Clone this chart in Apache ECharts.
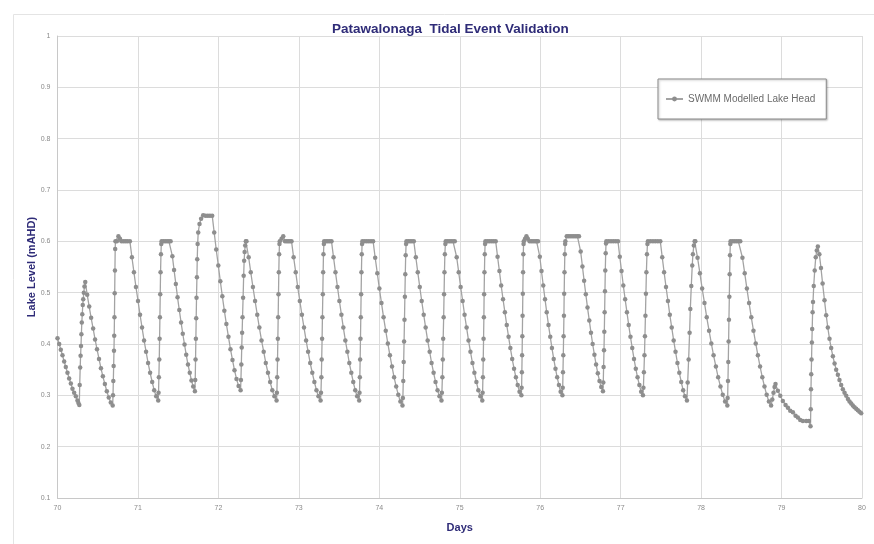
<!DOCTYPE html>
<html>
<head>
<meta charset="utf-8">
<title>Patawalonaga Tidal Event Validation</title>
<script src="https://cdn.jsdelivr.net/npm/echarts@6/dist/echarts.min.js"></script>
<style>
  html, body { margin: 0; padding: 0; background: #ffffff; }
  #chart { width: 874px; height: 544px; }
</style>
</head>
<body>
<div id="chart"></div>
<script>
// Modelled lake head (mAHD) against model day, one array per tide cycle.
const tide00 = [[70.000,0.411],[70.021,0.400],[70.041,0.389],[70.062,0.378],[70.083,0.366],[70.103,0.355],[70.124,0.344],[70.145,0.333],[70.166,0.323],[70.186,0.313],[70.207,0.305],[70.228,0.298],[70.248,0.290],[70.260,0.285],[70.271,0.281]];
const tide01 = [[70.276,0.320],[70.282,0.354],[70.287,0.377],[70.292,0.396],[70.297,0.419],[70.302,0.442],[70.308,0.458],[70.314,0.476],[70.320,0.487],[70.327,0.500],[70.335,0.512],[70.345,0.521],
  [70.369,0.496],[70.394,0.473],[70.418,0.451],[70.443,0.430],[70.467,0.409],[70.491,0.390],[70.516,0.371],[70.540,0.353],[70.564,0.337],[70.589,0.322],[70.613,0.308],[70.637,0.296],[70.662,0.286],[70.686,0.280]];
const tide02 = [[70.690,0.300],[70.694,0.328],[70.698,0.357],[70.702,0.387],[70.705,0.416],[70.708,0.452],[70.711,0.499],[70.714,0.543],[70.717,0.585],[70.720,0.600],
  [70.738,0.600],[70.757,0.610],[70.776,0.605],[70.795,0.600],[70.820,0.600],[70.845,0.600],[70.870,0.600],[70.900,0.600],
  [70.925,0.569],[70.950,0.540],[70.975,0.511],[71.001,0.484],[71.026,0.457],[71.051,0.432],[71.076,0.407],[71.101,0.385],[71.126,0.363],[71.151,0.344],[71.177,0.326],[71.202,0.310],[71.227,0.298],[71.252,0.290]];
const tide03 = [[71.256,0.305],[71.260,0.335],[71.265,0.370],[71.269,0.410],[71.273,0.452],[71.277,0.497],[71.281,0.540],[71.286,0.575],[71.290,0.595],[71.294,0.600],
  [71.317,0.600],[71.340,0.600],[71.363,0.600],[71.385,0.600],[71.406,0.600],
  [71.428,0.571],[71.449,0.544],[71.471,0.517],[71.492,0.491],[71.514,0.466],[71.536,0.442],[71.557,0.420],[71.579,0.399],[71.600,0.379],[71.622,0.360],[71.644,0.344],[71.665,0.329],[71.687,0.317],[71.708,0.308]];
const tide04 = [[71.712,0.330],[71.716,0.370],[71.720,0.410],[71.724,0.450],[71.728,0.490],[71.733,0.530],[71.737,0.565],[71.742,0.595],[71.749,0.617],[71.765,0.634],[71.785,0.644],[71.811,0.651],
  [71.840,0.650],[71.868,0.650],[71.895,0.650],[71.923,0.650],
  [71.948,0.617],[71.973,0.584],[71.999,0.553],[72.024,0.522],[72.049,0.493],[72.074,0.465],[72.099,0.439],[72.125,0.414],[72.150,0.390],[72.175,0.369],[72.200,0.349],[72.225,0.332],[72.251,0.318],[72.276,0.310]];
const tide05 = [[72.280,0.330],[72.285,0.360],[72.290,0.393],[72.295,0.422],[72.300,0.452],[72.307,0.490],[72.314,0.533],[72.320,0.562],[72.326,0.579],[72.333,0.592],[72.341,0.600],[72.349,0.600],
  [72.376,0.569],[72.402,0.540],[72.429,0.511],[72.456,0.484],[72.483,0.457],[72.509,0.432],[72.536,0.407],[72.563,0.385],[72.589,0.363],[72.616,0.344],[72.643,0.326],[72.670,0.310],[72.696,0.298],[72.723,0.290]];
const tide06 = [[72.727,0.305],[72.731,0.335],[72.735,0.370],[72.739,0.410],[72.743,0.452],[72.747,0.497],[72.751,0.540],[72.755,0.575],[72.759,0.595],[72.763,0.600],
  [72.785,0.605],[72.806,0.610],[72.828,0.600],[72.850,0.600],[72.870,0.600],[72.890,0.600],[72.909,0.600],
  [72.935,0.569],[72.961,0.540],[72.986,0.511],[73.012,0.484],[73.038,0.457],[73.064,0.432],[73.090,0.407],[73.115,0.385],[73.141,0.363],[73.167,0.344],[73.193,0.326],[73.219,0.310],[73.244,0.298],[73.270,0.290]];
const tide07 = [[73.275,0.305],[73.280,0.335],[73.284,0.370],[73.289,0.410],[73.293,0.452],[73.298,0.497],[73.302,0.540],[73.306,0.575],[73.311,0.595],[73.315,0.600],
  [73.338,0.600],[73.360,0.600],[73.383,0.600],[73.406,0.600],
  [73.431,0.569],[73.455,0.540],[73.480,0.511],[73.504,0.484],[73.529,0.457],[73.553,0.432],[73.578,0.407],[73.603,0.385],[73.627,0.363],[73.652,0.344],[73.676,0.326],[73.701,0.310],[73.725,0.298],[73.750,0.290]];
const tide08 = [[73.754,0.305],[73.758,0.335],[73.762,0.370],[73.766,0.410],[73.770,0.452],[73.774,0.497],[73.778,0.540],[73.782,0.575],[73.786,0.595],[73.790,0.600],
  [73.817,0.600],[73.843,0.600],[73.870,0.600],[73.897,0.600],[73.923,0.600],
  [73.949,0.568],[73.975,0.538],[74.001,0.508],[74.027,0.480],[74.053,0.452],[74.080,0.426],[74.106,0.401],[74.132,0.378],[74.158,0.356],[74.184,0.335],[74.210,0.317],[74.236,0.301],[74.262,0.288],[74.288,0.280]];
const tide09 = [[74.293,0.295],[74.298,0.328],[74.303,0.365],[74.308,0.405],[74.313,0.447],[74.318,0.492],[74.323,0.536],[74.328,0.573],[74.333,0.595],[74.338,0.600],
  [74.361,0.600],[74.383,0.600],[74.406,0.600],[74.429,0.600],
  [74.454,0.569],[74.478,0.540],[74.503,0.511],[74.527,0.484],[74.552,0.457],[74.576,0.432],[74.601,0.407],[74.626,0.385],[74.650,0.363],[74.675,0.344],[74.699,0.326],[74.724,0.310],[74.748,0.298],[74.773,0.290]];
const tide10 = [[74.778,0.305],[74.784,0.335],[74.789,0.370],[74.794,0.410],[74.800,0.452],[74.805,0.497],[74.810,0.540],[74.815,0.575],[74.821,0.595],[74.826,0.600],
  [74.848,0.600],[74.871,0.600],[74.893,0.600],[74.916,0.600],[74.938,0.600],
  [74.962,0.569],[74.987,0.540],[75.011,0.511],[75.036,0.484],[75.060,0.457],[75.085,0.432],[75.109,0.407],[75.133,0.385],[75.158,0.363],[75.182,0.344],[75.207,0.326],[75.231,0.310],[75.256,0.298],[75.280,0.290]];
const tide11 = [[75.284,0.305],[75.288,0.335],[75.292,0.370],[75.296,0.410],[75.300,0.452],[75.303,0.497],[75.307,0.540],[75.311,0.575],[75.315,0.595],[75.319,0.600],
  [75.345,0.600],[75.370,0.600],[75.396,0.600],[75.421,0.600],[75.447,0.600],
  [75.470,0.570],[75.493,0.542],[75.515,0.514],[75.538,0.487],[75.561,0.462],[75.584,0.437],[75.607,0.414],[75.629,0.392],[75.652,0.371],[75.675,0.352],[75.698,0.335],[75.720,0.320],[75.743,0.307],[75.766,0.300]];
const tide12 = [[75.769,0.315],[75.772,0.345],[75.775,0.378],[75.778,0.415],[75.781,0.455],[75.784,0.498],[75.787,0.540],[75.790,0.575],[75.793,0.595],[75.796,0.600],
  [75.812,0.605],[75.829,0.610],[75.846,0.605],[75.868,0.600],[75.890,0.600],[75.912,0.600],[75.935,0.600],[75.955,0.600],[75.973,0.600],
  [75.995,0.570],[76.016,0.542],[76.038,0.514],[76.060,0.487],[76.081,0.462],[76.103,0.437],[76.125,0.414],[76.146,0.392],[76.168,0.371],[76.190,0.352],[76.211,0.335],[76.233,0.320],[76.254,0.307],[76.276,0.300]];
const tide13 = [[76.280,0.315],[76.283,0.345],[76.287,0.378],[76.291,0.415],[76.295,0.455],[76.298,0.498],[76.302,0.540],[76.306,0.575],[76.310,0.595],[76.313,0.600],
  [76.330,0.610],[76.350,0.610],[76.372,0.610],[76.395,0.610],[76.418,0.610],[76.440,0.610],[76.462,0.610],[76.482,0.610],
  [76.503,0.580],[76.525,0.551],[76.546,0.523],[76.567,0.497],[76.588,0.471],[76.610,0.446],[76.631,0.422],[76.652,0.400],[76.674,0.379],[76.695,0.360],[76.716,0.343],[76.737,0.328],[76.759,0.316],[76.780,0.308]];
const tide14 = [[76.784,0.325],[76.788,0.355],[76.793,0.388],[76.797,0.424],[76.801,0.462],[76.805,0.503],[76.809,0.543],[76.814,0.577],[76.818,0.596],[76.822,0.600],
  [76.851,0.600],[76.880,0.600],[76.909,0.600],[76.938,0.600],[76.967,0.600],
  [76.989,0.570],[77.011,0.542],[77.033,0.514],[77.056,0.487],[77.078,0.462],[77.100,0.437],[77.122,0.414],[77.144,0.392],[77.166,0.371],[77.188,0.352],[77.210,0.335],[77.233,0.320],[77.255,0.307],[77.277,0.300]];
const tide15 = [[77.283,0.315],[77.289,0.345],[77.296,0.378],[77.302,0.415],[77.308,0.455],[77.314,0.498],[77.320,0.540],[77.327,0.575],[77.333,0.595],[77.339,0.600],
  [77.370,0.600],[77.401,0.600],[77.431,0.600],[77.462,0.600],[77.493,0.600],
  [77.517,0.569],[77.540,0.540],[77.564,0.511],[77.588,0.484],[77.611,0.457],[77.635,0.432],[77.659,0.407],[77.682,0.385],[77.706,0.363],[77.729,0.344],[77.753,0.326],[77.777,0.310],[77.800,0.298],[77.824,0.290]];
const tide16 = [[77.833,0.325],[77.845,0.370],[77.857,0.422],[77.866,0.468],[77.878,0.513],[77.890,0.553],[77.898,0.575],[77.910,0.592],[77.920,0.600],[77.928,0.600],
  [77.956,0.568],[77.985,0.538],[78.013,0.508],[78.042,0.480],[78.070,0.452],[78.099,0.426],[78.127,0.401],[78.155,0.378],[78.184,0.356],[78.212,0.335],[78.241,0.317],[78.269,0.301],[78.298,0.288],[78.326,0.280]];
const tide17 = [[78.330,0.295],[78.334,0.328],[78.338,0.365],[78.342,0.405],[78.346,0.447],[78.351,0.492],[78.355,0.536],[78.359,0.573],[78.363,0.595],[78.367,0.600],
  [78.391,0.600],[78.415,0.600],[78.439,0.600],[78.463,0.600],[78.487,0.600],
  [78.514,0.568],[78.542,0.538],[78.569,0.508],[78.596,0.480],[78.624,0.452],[78.651,0.426],[78.679,0.401],[78.706,0.378],[78.733,0.356],[78.761,0.335],[78.788,0.317],[78.815,0.301],[78.843,0.288],[78.870,0.280]];
const tide18 = [[78.885,0.292],[78.900,0.305],[78.913,0.316],[78.925,0.322],[78.954,0.309],[78.984,0.299],[79.016,0.289],[79.050,0.281],[79.079,0.276],[79.108,0.270],[79.141,0.267],[79.174,0.260],[79.203,0.257],[79.232,0.252],[79.265,0.250],[79.307,0.250],[79.340,0.250],[79.360,0.240]];
const tide19 = [[79.363,0.273],[79.366,0.312],[79.369,0.341],[79.373,0.370],[79.377,0.403],[79.381,0.429],[79.386,0.462],[79.391,0.482],[79.400,0.513],[79.412,0.543],[79.425,0.569],[79.438,0.582],[79.451,0.590],
  [79.470,0.575],[79.490,0.548],[79.510,0.518],[79.534,0.485],[79.555,0.456],[79.575,0.432],[79.596,0.410],[79.617,0.392],[79.638,0.376],[79.659,0.362],[79.679,0.350],[79.700,0.340],[79.720,0.330],[79.741,0.320],[79.762,0.312],[79.783,0.305],[79.804,0.299],[79.825,0.293],[79.845,0.288],[79.866,0.284],[79.886,0.280],[79.907,0.277],[79.928,0.274],[79.948,0.271],[79.969,0.268],[79.990,0.265]];

const dayTicks = ['70', '71', '72', '73', '74', '75', '76', '77', '78', '79', '80'];
const levelTicks = ['0.1', '0.2', '0.3', '0.4', '0.5', '0.6', '0.7', '0.8', '0.9', '1'];

const lakeHead = [].concat(tide00, tide01, tide02, tide03, tide04, tide05, tide06, tide07, tide08, tide09,
  tide10, tide11, tide12, tide13, tide14, tide15, tide16, tide17, tide18, tide19);

const FONT = '"Liberation Sans", Arial, sans-serif';
const NAVY = '#2f2c78';

const chart = echarts.init(document.getElementById('chart'), null, { renderer: 'canvas' });

chart.setOption({
  animation: false,
  backgroundColor: '#ffffff',
  title: {
    text: 'Patawalonaga  Tidal Event Validation',
    left: 327,
    top: 17,
    textStyle: { fontFamily: FONT, fontSize: 13.5, fontWeight: 'bold', color: NAVY }
  },
  legend: {
    data: ['SWMM Modelled Lake Head'],
    left: 658,
    top: 79,
    orient: 'horizontal',
    padding: [15, 11, 15, 7],
    itemWidth: 17,
    itemHeight: 6,
    itemGap: 4,
    backgroundColor: '#ffffff',
    borderColor: '#8a8a8a',
    borderWidth: 1,
    shadowColor: 'rgba(0,0,0,0.25)',
    shadowBlur: 2,
    shadowOffsetX: 1,
    shadowOffsetY: 1,
    textStyle: { fontFamily: FONT, fontSize: 10, color: '#6b6b6b' }
  },
  graphic: [{
    type: 'rect',
    left: 11,
    top: 12,
    shape: { width: 870, height: 530 },
    style: { fill: 'none', stroke: '#e4e4e4', lineWidth: 1 },
    silent: true,
    z: -1
  }],
  grid: { left: 57.5, right: 12, top: 36, bottom: 46, containLabel: false },
  xAxis: {
    type: 'value',
    min: 70,
    max: 80,
    interval: 1,
    name: 'Days',
    nameLocation: 'middle',
    nameGap: 24,
    nameTextStyle: { fontFamily: FONT, fontSize: 11, fontWeight: 'bold', color: NAVY },
    axisLine: { show: true, lineStyle: { color: '#c8c8c8', width: 1 } },
    axisTick: { show: false },
    splitLine: { show: true, lineStyle: { color: '#dcdcdc', width: 1 } },
    axisLabel: {
      fontFamily: FONT, fontSize: 7, color: '#8a8a8a', margin: 7,
      formatter: function (v) { return dayTicks[Math.round(v - 70)]; }
    }
  },
  yAxis: {
    type: 'value',
    min: 0.1,
    max: 1,
    interval: 0.1,
    name: 'Lake Level (mAHD)',
    nameLocation: 'middle',
    nameGap: 20,
    nameRotate: 90,
    nameMoveOverlap: false,
    nameTextStyle: { fontFamily: FONT, fontSize: 11, fontWeight: 'bold', color: NAVY },
    axisLine: { show: true, lineStyle: { color: '#c8c8c8', width: 1 } },
    axisTick: { show: false },
    splitLine: { show: true, lineStyle: { color: '#dcdcdc', width: 1 } },
    axisLabel: {
      fontFamily: FONT, fontSize: 7, color: '#8a8a8a', margin: 7,
      formatter: function (v) { return levelTicks[Math.round(v * 10) - 1]; }
    }
  },
  series: [{
    name: 'SWMM Modelled Lake Head',
    type: 'line',
    data: lakeHead,
    showSymbol: true,
    showAllSymbol: true,
    symbol: 'circle',
    symbolSize: 4.5,
    lineStyle: { color: '#a3a3a3', width: 1.3 },
    itemStyle: { color: '#8e8e8e', borderWidth: 0 },
    emphasis: { disabled: true }
  }]
});
</script>
</body>
</html>
